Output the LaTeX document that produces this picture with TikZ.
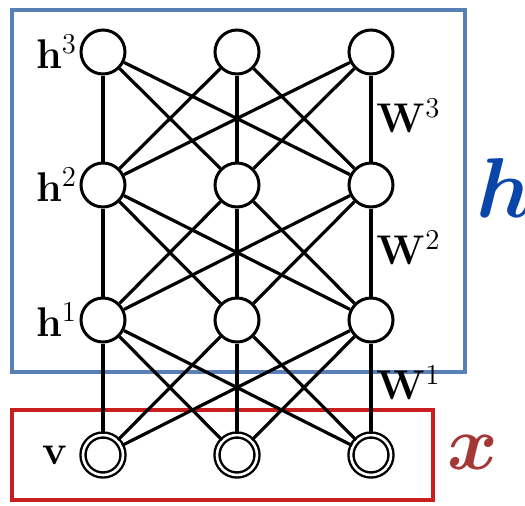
\documentclass[tikz,border=0pt]{standalone}
\usepackage{amsmath,amssymb,bm,graphicx}
\usetikzlibrary{positioning}
\definecolor{hblue}{RGB}{88,128,180}
\definecolor{hink}{RGB}{10,70,170}
\definecolor{xred}{RGB}{200,30,30}
\definecolor{xink}{RGB}{165,55,55}
\newcommand{\bigsym}[2]{\scalebox{#1}{$\bm{#2}$}}
\tikzset{
  unit/.style={circle,draw=black,fill=white,line width=1.5pt,minimum size=22pt,inner sep=0pt},
  vis/.style={unit,double=white,double distance=1.3pt,line width=1.2pt,minimum size=20pt},
  wire/.style={line width=1.6pt},
  lbl/.style={font=\fontsize{20.74}{24}\selectfont,inner sep=1pt},
  big/.style={font=\fontsize{20.74}{24}\selectfont,inner sep=0pt},
}
\begin{document}
\begin{tikzpicture}[x=0.5pt,y=-0.5pt]
  \useasboundingbox (0,0) rectangle (525,505);
  % boxes
  \draw[hblue,line width=2pt] (12,10) rectangle (465,372);
  \draw[xred,line width=2pt] (12,410) rectangle (433,500);
  % units
  \foreach \c/\x in {a/103,b/237,c/371}{
    \node[unit] (h3\c) at (\x,52) {};
    \node[unit] (h2\c) at (\x,185) {};
    \node[unit] (h1\c) at (\x,320) {};
    \node[vis] (v\c) at (\x,455) {};
  }
  % weights
  \foreach \lo/\hi in {v/h1,h1/h2,h2/h3}
    \foreach \i in {a,b,c}
      \foreach \j in {a,b,c}
        \draw[wire] (\lo\i) -- (\hi\j);
  % labels
  \node[lbl,left=0pt of h3a] {$\mathbf{h}^3$};
  \node[lbl,left=0pt of h2a] {$\mathbf{h}^2$};
  \node[lbl,left=0pt of h1a] {$\mathbf{h}^1$};
  \node[lbl,left=6pt of va] {$\mathbf{v}$};
  \node[lbl,anchor=west] at (374,116) {$\mathbf{W}^3$};
  \node[lbl,anchor=west] at (374,248) {$\mathbf{W}^2$};
  \node[lbl,anchor=west] at (374,383) {$\mathbf{W}^1$};
  \node[big,text=hink] at (505,188) {\bigsym{2.05}{h}};
  \node[big,text=xink] at (473,452) {\bigsym{1.85}{x}};
\end{tikzpicture}
\end{document}
